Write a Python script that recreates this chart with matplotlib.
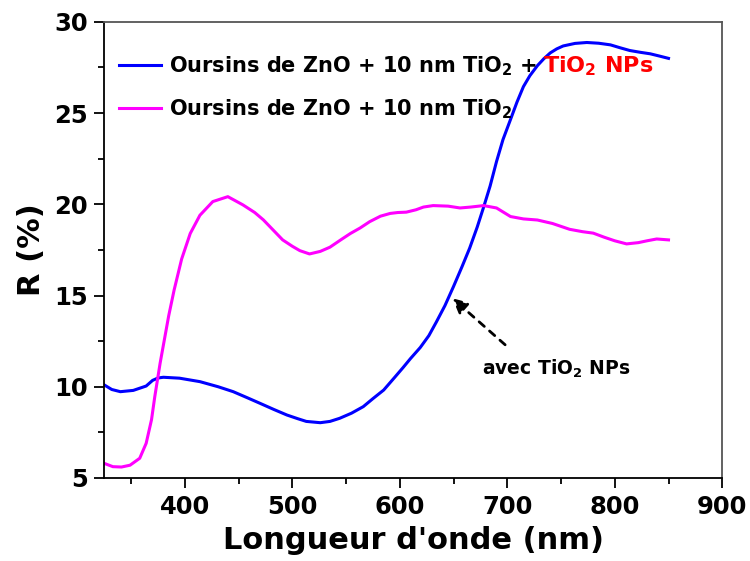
import matplotlib
matplotlib.use("Agg")
import matplotlib.pyplot as plt
from matplotlib.ticker import MultipleLocator
from matplotlib.transforms import IdentityTransform

plt.rcParams['font.family'] = ['DejaVu Sans']
plt.rcParams['font.weight'] = 'bold'
plt.rcParams['mathtext.fontset'] = 'custom'
plt.rcParams['mathtext.rm'] = 'DejaVu Sans:bold'
plt.rcParams['mathtext.default'] = 'rm'

# Reflectance of ZnO urchins + 10 nm TiO2 (magenta)
wl_ref = [325, 333, 341, 349, 358, 364, 369, 372, 377, 381, 385, 390, 397, 405, 414, 426,
          440, 454, 465, 473, 482, 491, 500, 507, 516, 526, 535, 545, 554, 563,
          572, 582, 591, 598, 606, 615, 622, 631, 645, 656, 666, 678, 690, 703,
          715, 728, 742, 758, 770, 780, 790, 800, 811, 822, 830, 839, 850]
r_ref = [5.8, 5.62, 5.6, 5.7, 6.08, 6.9, 8.2, 9.45, 11.3, 12.6, 13.9, 15.3, 17.0, 18.4, 19.4, 20.15,
         20.42, 19.97, 19.55, 19.15, 18.6, 18.05, 17.7, 17.46, 17.28, 17.42, 17.65, 18.05, 18.4, 18.7,
         19.05, 19.35, 19.5, 19.55, 19.57, 19.7, 19.85, 19.93, 19.9, 19.8, 19.85, 19.93, 19.8, 19.33,
         19.2, 19.14, 18.95, 18.63, 18.5, 18.42, 18.2, 18.0, 17.83, 17.9, 18.0, 18.1, 18.05]

# Reflectance with TiO2 nanoparticles (blue)
wl_np = [325, 332, 340, 352, 364, 370, 375, 380, 395, 414, 431, 445,
         458, 470, 483, 495, 505, 513, 526, 535, 544, 555, 566, 575, 585, 595,
         603, 610, 619, 627, 634, 642, 650, 658, 665, 672, 678, 684, 690, 696,
         703, 709, 715, 721, 728, 734, 740, 746, 752, 763, 774, 785, 796, 805,
         814, 824, 833, 842, 850]
r_np = [10.1, 9.85, 9.73, 9.8, 10.04, 10.35, 10.48, 10.52, 10.47, 10.28, 10.0, 9.73,
        9.4, 9.09, 8.75, 8.45, 8.25, 8.1, 8.03, 8.1, 8.27, 8.55, 8.91, 9.35, 9.82, 10.5,
        11.05, 11.55, 12.15, 12.8, 13.55, 14.45, 15.5, 16.6, 17.6, 18.75, 19.85, 21.0, 22.35, 23.55,
        24.65, 25.6, 26.45, 27.05, 27.6, 27.98, 28.3, 28.52, 28.68, 28.82, 28.87, 28.83, 28.74, 28.58,
        28.43, 28.33, 28.25, 28.12, 28.0]

label_np = "Oursins de ZnO + 10 nm TiO$_2$ +"
label_np_red = "TiO$_2$ NPs"
label_ref = "Oursins de ZnO + 10 nm TiO$_2$"

fig = plt.figure(figsize=(7.5, 5.61), dpi=100)
ax = fig.add_axes([0.139, 0.148, 0.824, 0.813])

ax.plot(wl_np, r_np, color='#0000FF', lw=2.2, label=label_np)
ax.plot(wl_ref, r_ref, color='#FF00FF', lw=2.2, label=label_ref)

ax.set_xlim(325, 900)
ax.set_ylim(5, 30)
ax.xaxis.set_major_locator(MultipleLocator(100))
ax.xaxis.set_minor_locator(MultipleLocator(50))
ax.yaxis.set_major_locator(MultipleLocator(5))
ax.yaxis.set_minor_locator(MultipleLocator(2.5))
ax.tick_params(which='major', direction='out', length=7, width=1.3, labelsize=17.5, pad=5)
ax.tick_params(which='minor', direction='out', length=4, width=1.3)
for s in ax.spines.values():
    s.set_linewidth(1.3)
ax.spines['right'].set_color('#555555')
ax.spines['top'].set_color('#555555')

ax.set_xlabel("Longueur d'onde (nm)", fontsize=22, fontweight='bold', labelpad=5)
ax.set_ylabel("R (%)", fontsize=22, fontweight='bold', labelpad=6)

leg = ax.legend(loc='upper left', bbox_to_anchor=(0.0, 0.96), frameon=False,
                fontsize=15, handlelength=2.0, handletextpad=0.4, labelspacing=0.9,
                borderaxespad=0.3)

# arrow pointing at the blue curve
ax.annotate("", xy=(649, 14.85), xytext=(698, 12.3),
            arrowprops=dict(arrowstyle='-|>', color='black', lw=2.0, ls=(0, (2.5, 2.5)),
                            mutation_scale=22, shrinkA=0, shrinkB=0))
ax.text(746, 11.0, "avec TiO$_2$ NPs", ha='center', va='center', fontsize=13.5, fontweight='bold')

# red tail of the first legend entry, placed right after the black text
fig.canvas.draw()
bb = leg.get_texts()[0].get_window_extent()
fig.text(bb.x1 + 6, bb.y0, label_np_red, transform=IdentityTransform(),
         ha='left', va='bottom', color='#FF0000', fontsize=16, fontweight='bold')

fig.savefig("out.png", dpi=100)
